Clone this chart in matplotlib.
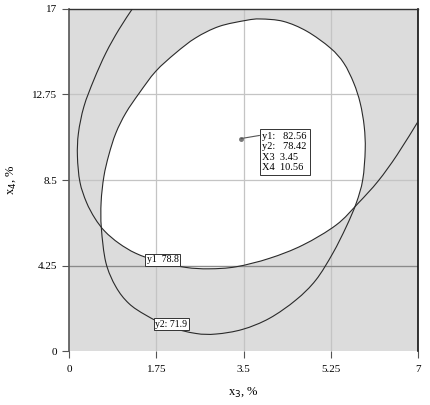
import numpy as np
import matplotlib.pyplot as plt
from matplotlib.path import Path
from matplotlib.patches import PathPatch

# contour y2 = 71.9 (closed loop)
y2_x = [3.84, 3.55, 3.01, 2.54, 2.14, 1.74, 1.41, 1.14, 0.94, 0.80, 0.70, 0.645, 0.65, 0.74, 0.94, 1.20,
        1.54, 2.01, 2.54, 2.95, 3.48, 4.02, 4.55, 4.95, 5.29, 5.56, 5.76, 5.89, 5.94, 5.92, 5.84, 5.71,
        5.51, 5.24, 4.77, 4.30]
y2_y = [16.50, 16.43, 16.13, 15.56, 14.81, 13.90, 12.82, 11.83, 10.83, 9.75, 8.67, 7.40, 6.10, 4.40, 3.20, 2.37,
        1.79, 1.21, 0.88, 0.85, 1.08, 1.63, 2.54, 3.53, 4.86, 6.18, 7.35, 8.51, 10.00, 11.16, 12.32, 13.32,
        14.31, 15.06, 15.89, 16.38]

# contour y1 = 78.8 (open curve, top edge to right edge)
y1_x = [1.27, 1.00, 0.74, 0.50, 0.30, 0.19, 0.17, 0.22, 0.35, 0.52, 0.72, 1.00, 1.34, 1.80, 2.34, 2.81,
        3.35, 4.02, 4.69, 5.36, 5.80, 6.20, 6.58, 7.00]
y1_y = [17.00, 15.97, 14.81, 13.48, 12.15, 10.83, 9.67, 8.40, 7.40, 6.60, 5.95, 5.36, 4.86, 4.45, 4.16, 4.09,
        4.19, 4.61, 5.27, 6.27, 7.35, 8.45, 9.75, 11.41]

# flag point
flag_x, flag_y = 3.45, 10.56
flag_text = "y1:   82.56\ny2:   78.42\nX3  3.45\nX4  10.56"

x_ticks = [0, 1.75, 3.5, 5.25, 7]
x_ticklabels = ["0", "1.75", "3.5", "5.25", "7"]
y_ticks = [0, 4.25, 8.5, 12.75, 17]
y_ticklabels = ["0", "4.25", "8.5", "12.75", "17"]

BG = '#dcdcdc'


def smooth(xs, ys, closed=False):
    # pass a smooth bezier curve through the traced points
    pts = np.column_stack([xs, ys])
    n = len(pts)
    verts = [pts[0]]
    codes = [Path.MOVETO]
    segs = n if closed else n - 1
    for i in range(segs):
        if closed:
            p0, p1, p2, p3 = pts[(i - 1) % n], pts[i % n], pts[(i + 1) % n], pts[(i + 2) % n]
        else:
            p0, p1, p2, p3 = pts[max(i - 1, 0)], pts[i], pts[i + 1], pts[min(i + 2, n - 1)]
        verts += [p1 + (p2 - p0) / 6, p2 - (p3 - p1) / 6, p2]
        codes += [Path.CURVE4] * 3
    return verts, codes


plt.rcParams['font.family'] = ['Liberation Serif', 'DejaVu Serif']

fig = plt.figure(figsize=(4.31, 4.05), dpi=100)
ax = fig.add_axes([0.160, 0.133, 0.810, 0.845])
ax.set_xlim(0, 7)
ax.set_ylim(0, 17)
ax.set_facecolor(BG)

# feasible (white) region: inside y2 loop, above y1 curve
v2, c2 = smooth(y2_x, y2_y, closed=True)
ax.add_patch(PathPatch(Path(v2, c2), fc='white', lw=0, zorder=1))
v1, c1 = smooth(y1_x, y1_y)
vo = v1 + [(7, 0), (0, 0), (0, 17), (0, 17)]
co = c1 + [Path.LINETO, Path.LINETO, Path.LINETO, Path.CLOSEPOLY]
ax.add_patch(PathPatch(Path(vo, co), fc=BG, lw=0, zorder=1.1))

# grid
for gx in x_ticks[1:-1]:
    ax.axvline(gx, color='#c4c4c4', lw=0.9, zorder=2)
for gy in y_ticks[1:-1]:
    ax.axhline(gy, color='#c4c4c4', lw=0.9, zorder=2)
ax.axhline(4.25, color='#8a8a8a', lw=0.9, zorder=2)

# contours
ax.add_patch(PathPatch(Path(v2, c2), fc='none', ec='#2a2a2a', lw=0.8, zorder=3))
ax.add_patch(PathPatch(Path(v1, c1), fc='none', ec='#2a2a2a', lw=0.8, zorder=3))

# contour labels
box = dict(boxstyle='square,pad=0.15', fc='white', ec='#333333', lw=0.7)
ax.text(1.56, 4.53, "y1  78.8", fontsize=7, va='center', ha='left', bbox=box, zorder=4)
ax.text(1.73, 1.34, "y2: 71.9", fontsize=7, va='center', ha='left', bbox=box, zorder=4)

# flag
ax.plot(flag_x, flag_y, 'o', color='#777777', ms=2.5, zorder=4)
ax.annotate(flag_text, xy=(flag_x, flag_y), xytext=(3.88, 9.9),
            fontsize=7.5, va='center', ha='left', linespacing=1.2,
            bbox=dict(boxstyle='square,pad=0.25', fc='white', ec='#333333', lw=0.7),
            arrowprops=dict(arrowstyle='-', color='#555555', lw=0.8, shrinkA=0, shrinkB=0,
                            relpos=(0, 0.92)),
            zorder=4)

ax.set_xticks(x_ticks)
ax.set_xticklabels(x_ticklabels)
ax.set_yticks(y_ticks)
ax.set_yticklabels(y_ticklabels)
ax.tick_params(axis='both', labelsize=8, direction='out', length=5, width=0.8, color='#555555')
ax.tick_params(axis='x', pad=5)

for s in ['left', 'right']:
    ax.spines[s].set_color('#555555')
    ax.spines[s].set_linewidth(1.2)
ax.spines['right'].set_color('#111111')
ax.spines['top'].set_color('#333333')
ax.spines['top'].set_linewidth(1.0)
ax.spines['bottom'].set_visible(False)

ax.set_xlabel("x$_3$, %", fontsize=9, labelpad=8)
ax.set_ylabel("x$_4$, %", fontsize=9, labelpad=10)

fig.savefig("out.png", dpi=100)
